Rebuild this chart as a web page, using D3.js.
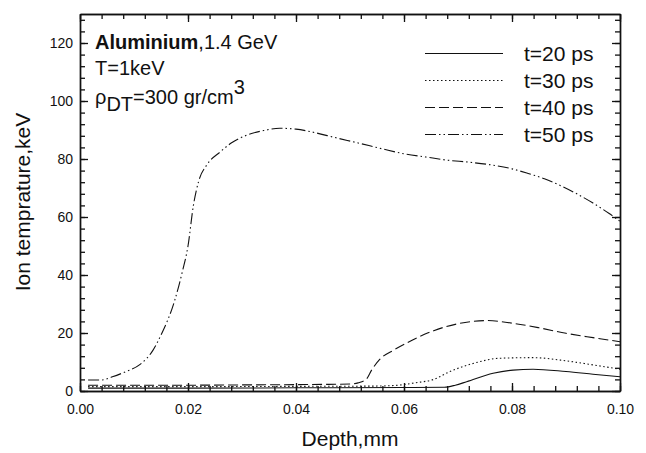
<!DOCTYPE html>
<html>
<head>
<meta charset="utf-8">
<script src="https://cdn.jsdelivr.net/npm/d3@7"></script>
<style>
  body { margin: 0; background: #fff; }
  text { font-family: "Liberation Sans", Arial, sans-serif; fill: #111; }
</style>
</head>
<body>
<div id="viz-container"></div>
<script>
// series: depth (mm) and ion temperature (keV)
let depth20 = [0.0015, 0.02, 0.04, 0.06, 0.0675, 0.0695, 0.0716, 0.0765, 0.0802, 0.0839, 0.090, 0.095, 0.100];
let temp20  = [1.0, 1.0, 1.1, 1.2, 1.3, 2.0, 3.2, 6.1, 7.2, 7.5, 6.7, 5.8, 4.9];

let depth30 = [0.0015, 0.02, 0.04, 0.055, 0.059, 0.062, 0.0655, 0.0685, 0.0728, 0.0778, 0.0839, 0.090, 0.095, 0.100];
let temp30  = [1.5, 1.5, 1.6, 1.7, 2.0, 2.8, 4.0, 6.7, 9.5, 11.3, 11.5, 10.4, 9.0, 7.5];

let depth40 = [0.0015, 0.01, 0.02, 0.03, 0.04, 0.046, 0.050, 0.0515, 0.053, 0.054, 0.0555, 0.058, 0.0615, 0.0655, 0.070, 0.0755, 0.080, 0.085, 0.090, 0.095, 0.100];
let temp40  = [2.0, 2.0, 2.0, 2.1, 2.2, 2.3, 2.4, 2.8, 4.0, 7.2, 10.9, 14, 17.5, 20.8, 23.2, 24.3, 23.4, 21.8, 19.9, 18.4, 17.0];

let depth50 = [0.0015, 0.004, 0.006, 0.0085, 0.011, 0.0135, 0.015, 0.0175, 0.019, 0.020, 0.021, 0.022, 0.0235, 0.026, 0.028, 0.031, 0.034, 0.037, 0.040, 0.043, 0.047, 0.052, 0.056, 0.060, 0.064, 0.068, 0.072, 0.076, 0.080, 0.083, 0.086, 0.089, 0.092, 0.095, 0.098, 0.100];
let temp50  = [3.8, 3.8, 4.9, 6.7, 9.0, 14, 19.3, 31, 41.5, 50, 64, 72.5, 78, 82.5, 85.5, 88.3, 89.8, 90.6, 90.3, 89.3, 87.5, 85.3, 83.5, 81.8, 80.7, 79.6, 78.9, 78.0, 76.6, 75.0, 73.2, 70.8, 68.0, 64.8, 61.2, 58.5];

let seriesNames = ["t=20 ps", "t=30 ps", "t=40 ps", "t=50 ps"];
let xTicks = [0, 0.02, 0.04, 0.06, 0.08, 0.10];
let yTicks = [0, 20, 40, 60, 80, 100, 120];

let W = 646, H = 453;
let m = {left: 80, right: 26, top: 14, bottom: 62};

let svg = d3.select("#viz-container")
  .append("svg")
    .attr("width", W)
    .attr("height", H)
;

let x = d3.scaleLinear().domain([0, 0.1]).range([m.left, W - m.right]);
let y = d3.scaleLinear().domain([0, 130]).range([H - m.bottom, m.top]);

let dashes = [null, "1.5,2.5", "10,4", "11,3,1.5,3,1.5,3"];
let series = [
  d3.zip(depth20, temp20),
  d3.zip(depth30, temp30),
  d3.zip(depth40, temp40),
  d3.zip(depth50, temp50)
];

let line = d3.line()
  .x(d => x(d[0]))
  .y(d => y(d[1]))
  .curve(d3.curveMonotoneX);

svg.selectAll("path.curve").data(series).enter()
  .append("path")
    .attr("class", "curve")
    .attr("d", line)
    .attr("fill", "none")
    .attr("stroke", "#111")
    .attr("stroke-width", 1.1)
    .attr("stroke-dasharray", (d, i) => dashes[i])
;

// axes: major ticks with labels, minor ticks in between, all pointing inward
function styleAxis(g){
  g.select(".domain").attr("stroke", "#111").attr("stroke-width", 1.4);
  g.selectAll(".tick line").attr("stroke", "#111").attr("stroke-width", 1.3);
  g.selectAll(".tick text").style("font-size", "14px").attr("fill", "#111");
}

let xMinor = d3.range(0, 0.1001, 0.004);
let yMinor = d3.range(0, 130, 4);

svg.append("g").attr("transform", `translate(0,${H - m.bottom})`)
  .call(d3.axisBottom(x).tickValues(xMinor).tickSize(-5).tickFormat("").tickSizeOuter(0)).call(styleAxis);
svg.append("g").attr("transform", `translate(0,${H - m.bottom})`)
  .call(d3.axisBottom(x).tickValues(xTicks).tickSize(-8).tickPadding(13).tickFormat(d3.format(".2f")).tickSizeOuter(0)).call(styleAxis);

svg.append("g").attr("transform", `translate(0,${m.top})`)
  .call(d3.axisTop(x).tickValues(xMinor).tickSize(-5).tickFormat("").tickSizeOuter(0)).call(styleAxis);
svg.append("g").attr("transform", `translate(0,${m.top})`)
  .call(d3.axisTop(x).tickValues(xTicks).tickSize(-8).tickFormat("").tickSizeOuter(0)).call(styleAxis);

svg.append("g").attr("transform", `translate(${m.left},0)`)
  .call(d3.axisLeft(y).tickValues(yMinor).tickSize(-5).tickFormat("").tickSizeOuter(0)).call(styleAxis);
svg.append("g").attr("transform", `translate(${m.left},0)`)
  .call(d3.axisLeft(y).tickValues(yTicks).tickSize(-8).tickPadding(7).tickSizeOuter(0)).call(styleAxis);

svg.append("g").attr("transform", `translate(${W - m.right},0)`)
  .call(d3.axisRight(y).tickValues(yMinor).tickSize(-5).tickFormat("").tickSizeOuter(0)).call(styleAxis);
svg.append("g").attr("transform", `translate(${W - m.right},0)`)
  .call(d3.axisRight(y).tickValues(yTicks).tickSize(-8).tickFormat("").tickSizeOuter(0)).call(styleAxis);

// axis titles
svg.append("text")
  .attr("x", 350).attr("y", 446)
  .attr("text-anchor", "middle")
  .style("font-size", "21px")
  .text("Depth,mm");

svg.append("text")
  .attr("transform", "translate(30,202) rotate(-90)")
  .attr("text-anchor", "middle")
  .style("font-size", "21px")
  .text("Ion temprature,keV");

// annotation
let note = svg.append("g").style("font-size", "20px");
let l1 = note.append("text").attr("x", 95).attr("y", 49);
l1.append("tspan").attr("font-weight", "bold").text("Aluminium");
l1.append("tspan").text(",1.4 GeV");
note.append("text").attr("x", 95).attr("y", 75).text("T=1keV");
let l3 = note.append("text").attr("x", 95).attr("y", 104);
l3.append("tspan").text("ρ");
l3.append("tspan").attr("dy", 7).text("DT");
l3.append("tspan").attr("dy", -7).text("=300 gr/cm");
l3.append("tspan").attr("dy", -10).text("3");

// legend
let legend = svg.selectAll("g.legend").data(seriesNames).enter()
  .append("g")
    .attr("class", "legend")
    .attr("transform", (d, i) => `translate(0,${53.5 + i * 27})`)
;
legend.append("line")
  .attr("x1", 425).attr("x2", 503)
  .attr("stroke", "#111")
  .attr("stroke-width", 1.1)
  .attr("stroke-dasharray", (d, i) => dashes[i]);
legend.append("text")
  .attr("x", 524).attr("y", 7.5)
  .style("font-size", "21px")
  .text(d => d);
</script>
</body>
</html>
